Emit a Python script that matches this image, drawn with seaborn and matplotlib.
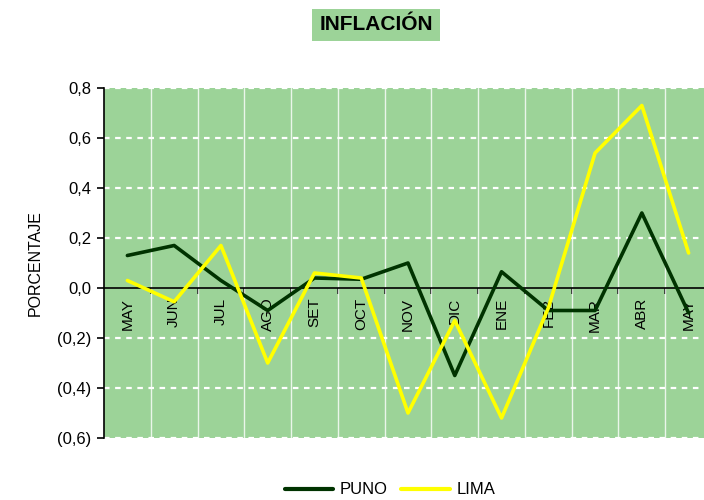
import matplotlib
matplotlib.use("Agg")
import matplotlib.pyplot as plt
import seaborn as sns
import numpy as np
import pandas as pd
from matplotlib.lines import Line2D

months = ["MAY", "JUN", "JUL", "AGO", "SET", "OCT", "NOV", "DIC", "ENE", "FEB", "MAR", "ABR", "MAY"]
puno = [0.13, 0.17, 0.03, -0.09, 0.04, 0.035, 0.10, -0.35, 0.065, -0.09, -0.09, 0.30, -0.10]
lima = [0.03, -0.055, 0.17, -0.30, 0.06, 0.04, -0.50, -0.13, -0.52, -0.08, 0.54, 0.73, 0.14]
yticks = [0.8, 0.6, 0.4, 0.2, 0.0, -0.2, -0.4, -0.6]
ytick_labels = ["0,8", "0,6", "0,4", "0,2", "0,0", "(0,2)", "(0,4)", "(0,6)"]

sns.set_style("white")
plt.rcParams['font.family'] = ['Liberation Sans', 'DejaVu Sans']
plt.rcParams['text.color'] = 'black'
plt.rcParams['xtick.color'] = 'black'
plt.rcParams['ytick.color'] = 'black'
plt.rcParams['axes.labelcolor'] = 'black'

fig = plt.figure(figsize=(7.04, 5.0), dpi=100)
ax = fig.add_axes([104/704, 62/500, 608/704, 350/500])

green_bg = "#9cd398"
ax.set_facecolor(green_bg)

pos = np.arange(len(months))
df = pd.DataFrame({"pos": np.concatenate([pos, pos]),
                   "val": puno + lima,
                   "serie": ["PUNO"] * len(months) + ["LIMA"] * len(months)})

sns.lineplot(data=df, x="pos", y="val", hue="serie", sort=False,
             palette={"PUNO": "#003300", "LIMA": "#ffff00"},
             linewidth=2.6, ax=ax, legend=False, zorder=5)

ax.set_xlim(-0.5, len(months) - 0.5)
ax.set_ylim(-0.6, 0.8)

# gridlines
for y in yticks:
    if y != 0:
        ax.axhline(y, color="white", lw=1.6, ls=(0, (2.5, 2.5)), zorder=1)
for b in np.arange(0.5, len(months) - 0.5, 1):
    ax.axvline(b, color="white", lw=1.0, alpha=0.8, zorder=1)

# axes spines
for s in ["top", "right"]:
    ax.spines[s].set_visible(False)
ax.spines["left"].set_color("black")
ax.spines["left"].set_linewidth(1.2)
ax.spines["bottom"].set_position(("data", 0))
ax.spines["bottom"].set_color("black")
ax.spines["bottom"].set_linewidth(1.2)
ax.spines["bottom"].set_zorder(4)

ax.set_yticks(yticks)
ax.set_yticklabels(ytick_labels, fontsize=12)
ax.tick_params(axis="y", direction="out", length=5, width=1.2, color="black", pad=4, left=True)

ax.set_xticks(pos)
ax.set_xticklabels(months, rotation=90, fontsize=11, va="top", ha="center")
ax.set_xticks(np.arange(0.5, len(months) - 0.5, 1), minor=True)
ax.tick_params(axis="x", which="major", length=0, pad=7, bottom=True)
ax.tick_params(axis="x", which="minor", length=4, width=1.2, color="black", direction="out", bottom=True)
for lbl in ax.get_xticklabels():
    lbl.set_zorder(6)

ax.set_xlabel("")
ax.set_ylabel("PORCENTAJE", fontsize=11.5, labelpad=10)

fig.text(376/704, 1 - 25/500, "INFLACIÓN", ha="center", va="center",
         fontsize=15, fontweight="bold", color="black",
         bbox=dict(facecolor=green_bg, edgecolor="none", pad=5))

handles = [Line2D([], [], color="#003300", lw=3), Line2D([], [], color="#ffff00", lw=3)]
fig.legend(handles, ["PUNO", "LIMA"], loc="center", bbox_to_anchor=(390/704, 1 - 490/500),
           ncol=2, frameon=False, fontsize=12, handlelength=2.9, handletextpad=0.4,
           columnspacing=0.8)

fig.savefig("out.png", dpi=100)
